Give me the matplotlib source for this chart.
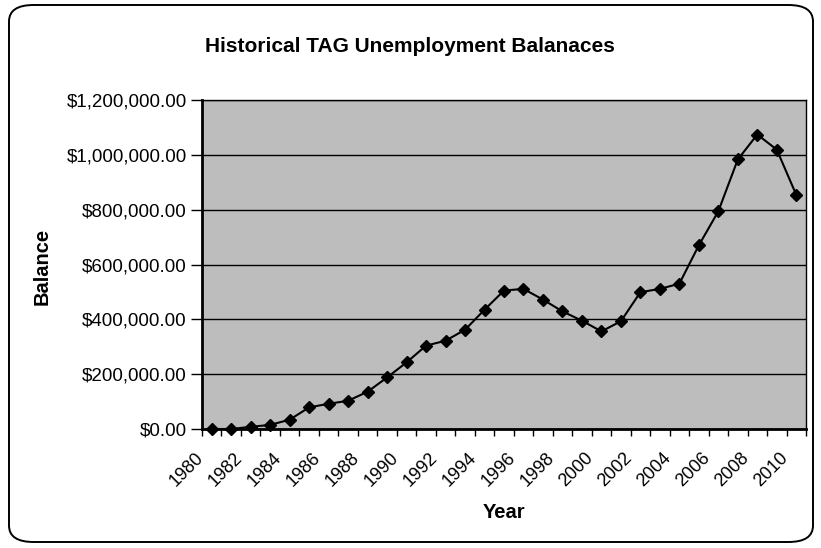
import numpy as np
import matplotlib.pyplot as plt
from matplotlib.patches import FancyBboxPatch
from matplotlib.ticker import FuncFormatter, FixedLocator

plt.rcParams['font.family'] = ['Liberation Sans', 'DejaVu Sans']

# Year-end balances
YEARS = list(range(1980, 2011))
BALANCES = [0, 0, 8000, 15000, 34000, 79000, 92000, 103000, 136000, 188000,
            243000, 304000, 322000, 362000, 435000, 505000, 511000, 472000,
            429000, 395000, 356000, 393000, 499000, 511000, 530000, 670000,
            794000, 983000, 1074000, 1019000, 854000]
Y_TICKS = [0, 200000, 400000, 600000, 800000, 1000000, 1200000]

W, H = 821, 548
fig = plt.figure(figsize=(W / 100, H / 100), dpi=100)
# plot area in pixels: x 202..806, y 100..429
ax = fig.add_axes([202 / W, 1 - 429 / H, 604 / W, 329 / H])

# rounded chart border
border = FancyBboxPatch((9 / W, 6 / H), 804 / W, 537 / H,
                        boxstyle="round,pad=0,rounding_size=0.03",
                        transform=fig.transFigure, facecolor="white",
                        edgecolor="black", linewidth=1.4, zorder=-10)
fig.patches.append(border)

x = np.arange(len(YEARS))
ax.set_facecolor("#bdbdbd")
ax.plot(x, BALANCES, color="black", linewidth=1.5, marker="D",
        markersize=6, markerfacecolor="black", zorder=3, clip_on=False)

ax.set_xlim(-0.5, len(YEARS) - 0.5)
ax.set_ylim(0, 1200000)
ax.set_yticks(Y_TICKS)
ax.yaxis.set_major_formatter(FuncFormatter(lambda v, p: f"${v:,.2f}"))
ax.grid(axis="y", color="black", linewidth=1.0)
ax.set_axisbelow(True)

# category axis: ticks between categories, labels every other year
ax.xaxis.set_major_locator(FixedLocator(np.arange(-0.5, len(YEARS), 1.0)))
ax.xaxis.set_major_formatter(FuncFormatter(lambda v, p: ""))
ax.tick_params(axis="x", which="major", direction="out", length=5, width=1)
ax.tick_params(axis="y", direction="out", length=8, width=1, labelsize=13.5, pad=3)

# rotated year labels, centred a little left of and below each category
for i in x[::2]:
    ax.annotate(str(YEARS[i]), xy=(i, 0), xycoords=("data", "axes fraction"),
                xytext=(-25 * 0.72, -41 * 0.72), textcoords="offset points",
                rotation=45, rotation_mode="anchor", ha="center", va="center",
                fontsize=13)

for side in ["top", "right"]:
    ax.spines[side].set_linewidth(1.0)
for side in ["left", "bottom"]:
    ax.spines[side].set_linewidth(2.0)

fig.text(410 / W, 1 - 46 / H, "Historical TAG Unemployment Balanaces",
         ha="center", va="center", fontsize=15, fontweight="bold")
fig.text(42 / W, 1 - 266 / H, "Balance", ha="center", va="center",
         rotation=90, fontsize=14.5, fontweight="bold")
fig.text(504 / W, 1 - 512 / H, "Year", ha="center", va="center",
         fontsize=14.5, fontweight="bold")

fig.savefig("out.png", dpi=100)
